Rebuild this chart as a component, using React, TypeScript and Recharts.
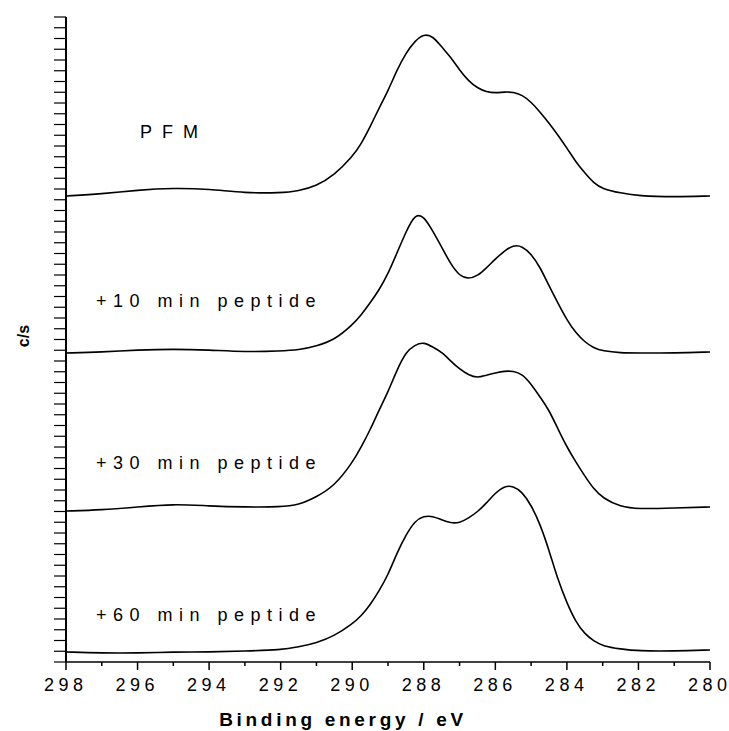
// XPS C1s spectra of PFM surface before and after peptide exposure (stacked, offset)
import { LineChart, Line, XAxis, YAxis } from "recharts";

// Binding energy grid (eV)
const ENERGY = [
  298, 297, 296, 295, 294, 293, 292, 291.5, 291, 290.5, 290, 289.75, 289.5, 289.25, 289,
  288.75, 288.5, 288.25, 288, 287.75, 287.5, 287.25, 287, 286.75, 286.5, 286.25, 286,
  285.75, 285.5, 285.25, 285, 284.75, 284.5, 284.25, 284, 283.75, 283.5, 283.25, 283,
  282.5, 282, 281, 280,
];

// Intensities (arbitrary c/s units, curves already offset)
const PFM = [
  466, 468, 472, 474, 473, 469, 469, 471, 476, 487, 505, 518, 535, 554, 571, 592, 609, 621,
  628, 626, 615, 605, 592, 581, 574, 570, 569, 570, 570, 567, 560, 550, 539, 527, 514, 500,
  489, 479, 473, 469, 466, 465, 466,
];
const MIN10 = [
  309, 310, 312, 313, 312, 310, 311, 312, 316, 322, 337, 347, 359, 372, 388, 409, 430, 448,
  446, 431, 415, 398, 386, 383, 386, 394, 403, 411, 417, 416, 408, 395, 376, 359, 342, 329,
  320, 314, 311, 309, 309, 309, 310,
];
const MIN30 = [
  151, 152, 155, 158, 156, 155, 155, 157, 165, 176, 199, 215, 232, 252, 270, 292, 310, 317,
  320, 315, 310, 301, 293, 287, 284, 287, 289, 291, 291, 288, 278, 265, 252, 233, 215, 200,
  186, 173, 164, 155, 153, 154, 155,
];
const MIN60 = [
  10, 9, 9, 10, 10, 11, 12, 15, 19, 26, 38, 46, 57, 71, 87, 109, 127, 141, 146, 146, 142,
  139, 139, 144, 150, 159, 169, 176, 176, 170, 157, 138, 112, 82, 59, 40, 28, 21, 16, 13,
  11, 11, 12,
];

const X_TICKS = [298, 297, 296, 295, 294, 293, 292, 291, 290, 289, 288, 287, 286, 285, 284, 283, 282, 281, 280];
const CURVE_LABELS = ["PFM", "+10 min peptide", "+30 min peptide", "+60 min peptide"];

const data = ENERGY.map((e, i) => ({
  e,
  pfm: PFM[i],
  m10: MIN10[i],
  m30: MIN30[i],
  m60: MIN60[i],
}));

// y-axis minor ticks, evenly spaced
const Y_STEP = 10.75;
const Y_TICKS = Array.from({ length: 61 }, (_, k) => k * Y_STEP);

const FONT = "'Liberation Sans', Arial, Helvetica, sans-serif";
const TICK_SIZE = 8;
const TICK_MARGIN = 8;
const DIGIT_GAP = 4.5;

function XTick(props: any) {
  const { x, y, payload } = props;
  const major = payload.value % 2 === 0;
  const axisY = y - TICK_SIZE - TICK_MARGIN;
  const txt = String(payload.value);
  // spaced digits without trailing gap
  const dx = txt.split("").map((_, i) => (i === 0 ? 0 : DIGIT_GAP)).join(" ");
  return (
    <g>
      <line x1={x} x2={x} y1={axisY} y2={axisY + (major ? 8 : 4)} stroke="#000" strokeWidth={1.5} />
      {major && (
        <text
          x={x - 2.5}
          y={y + 12.8}
          dx={dx}
          textAnchor="middle"
          fontFamily={FONT}
          fontSize={18}
          fill="#000"
        >
          {txt}
        </text>
      )}
    </g>
  );
}

const seriesKeys = ["pfm", "m10", "m30", "m60"];

// label positions (left, baseline)
const LABEL_POS = [
  { x: 140, y: 138, ls: 10 },
  { x: 96, y: 307, ls: 6.5 },
  { x: 96, y: 469, ls: 6.5 },
  { x: 96, y: 621, ls: 6.5 },
];

export default function App() {
  return (
    <div style={{ position: "absolute", left: 0, top: 0, width: 729, height: 731, background: "#fff" }}>
      <LineChart width={729} height={731} data={data} margin={{ top: 17, right: 19, left: 0, bottom: 0 }}>
        <XAxis
          dataKey="e"
          type="number"
          domain={[280, 298]}
          reversed
          ticks={X_TICKS}
          interval={0}
          height={69}
          tickSize={TICK_SIZE}
          tickMargin={TICK_MARGIN}
          tickLine={false}
          tick={<XTick />}
          axisLine={{ stroke: "#000", strokeWidth: 1.5 }}
          label={() => (
            <text
              x={343}
              y={726}
              textAnchor="middle"
              fontFamily={FONT}
              fontSize={19}
              fontWeight="bold"
              letterSpacing={3.7}
              fill="#000"
            >
              Binding energy / eV
            </text>
          )}
        />
        <YAxis
          type="number"
          domain={[0, 645]}
          ticks={Y_TICKS}
          interval={0}
          width={66}
          tickSize={12}
          tickFormatter={() => ""}
          tickLine={{ stroke: "#000", strokeWidth: 1.2 }}
          axisLine={{ stroke: "#000", strokeWidth: 2 }}
          label={() => (
            <text
              x={29}
              y={336}
              transform="rotate(-90 29 336)"
              textAnchor="middle"
              fontFamily={FONT}
              fontSize={16}
              fontWeight="bold"
              fill="#000"
            >
              c/s
            </text>
          )}
        />
        {seriesKeys.map((k) => (
          <Line
            key={k}
            type="basis"
            dataKey={k}
            stroke="#000"
            strokeWidth={1.6}
            dot={false}
            isAnimationActive={false}
          />
        ))}
      </LineChart>
      <svg
        width={729}
        height={731}
        style={{ position: "absolute", left: 0, top: 0, pointerEvents: "none" }}
      >
        {CURVE_LABELS.map((t, i) => (
          <text
            key={t}
            x={LABEL_POS[i].x}
            y={LABEL_POS[i].y}
            fontFamily={FONT}
            fontSize={18}
            letterSpacing={LABEL_POS[i].ls}
            fill="#000"
          >
            {t}
          </text>
        ))}
      </svg>
    </div>
  );
}
